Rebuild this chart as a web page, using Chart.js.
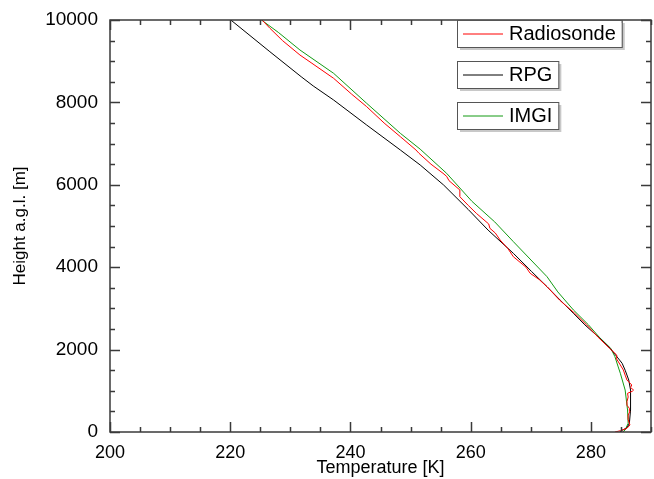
<!DOCTYPE html>
<html>
<head>
<meta charset="utf-8">
<script src="https://cdn.jsdelivr.net/npm/chart.js@4/dist/chart.umd.min.js"></script>
<style>
  html, body { margin: 0; padding: 0; background: #fff; }
  #wrap { width: 654px; height: 479px; }
</style>
</head>
<body>
<div id="wrap"><canvas id="profile" width="654" height="479"></canvas></div>
<script>
// tick labels
const xMajor = [200, 220, 240, 260, 280];
const yMajor = [0, 2000, 4000, 6000, 8000, 10000];

// Radiosonde (red)
const sondeHeight = [0, 30, 90, 170, 300, 413, 500, 575, 650, 735, 850, 939, 990, 1019, 1080, 1141, 1262, 1380, 1505, 1650, 1789, 1869, 2032, 2300, 2600, 2881, 3200, 3527, 3700, 3852, 4000, 4255, 4450, 4660, 4830, 4944, 5050, 5300, 5500, 5711, 5874, 6100, 6205, 6279, 6500, 6765, 6845, 7168, 7500, 7896, 8200, 8585, 8949, 9150, 9500, 9800, 10000];
const sondeTemp = [284.0, 284.9, 286.0, 286.5, 286.2, 286.2, 286.5, 286.4, 286.0, 286.0, 286.2, 286.1, 286.9, 287.1, 286.6, 286.8, 286.0, 285.7, 285.4, 284.8, 284.2, 284.3, 283.1, 281.2, 279.3, 277.3, 274.8, 272.7, 271.4, 269.9, 269.2, 267.1, 266.2, 264.9, 264.1, 263.2, 263.0, 261.0, 259.6, 258.2, 258.2, 256.4, 256.0, 255.4, 253.4, 251.4, 250.9, 248.3, 245.6, 242.7, 240.2, 237.2, 233.6, 231.6, 228.7, 226.6, 225.3];

// RPG (black)
const rpgHeight = [0, 50, 100, 211, 534, 1019, 1262, 1500, 1667, 1869, 2032, 2300, 2600, 2881, 3200, 3527, 3900, 4337, 4900, 5400, 5995, 6481, 6845, 7451, 8058, 8400, 8624, 9230, 10000];
const rpgTemp = [284.8, 285.3, 286.0, 286.4, 286.6, 286.6, 286.3, 285.7, 285.2, 284.1, 283.2, 281.3, 279.0, 277.1, 274.9, 272.7, 270.1, 267.1, 262.9, 259.6, 255.5, 251.6, 248.3, 242.7, 237.2, 233.8, 231.8, 226.6, 220.1];

// IMGI (green)
const imgiHeight = [0, 50, 211, 534, 1019, 1425, 1600, 1828, 2032, 2300, 2600, 2961, 3400, 3770, 4620, 5100, 5600, 6279, 6865, 7250, 7978, 8706, 9272, 9700, 10000];
const imgiTemp = [285.3, 285.7, 286.2, 286.1, 285.7, 284.9, 284.5, 284.0, 283.3, 281.4, 279.6, 277.1, 274.5, 272.7, 267.1, 264.0, 260.2, 256.0, 251.6, 248.3, 242.7, 237.2, 231.6, 228.0, 225.2];

const toPoints = (temps, heights) => temps.map((t, i) => ({ x: t, y: heights[i] }));

const FONT = '"Liberation Sans", Arial, sans-serif';

// frame with inward ticks on all four sides
const framePlugin = {
  id: 'frame',
  afterDatasetsDraw(chart) {
    const { ctx, chartArea: { left, right, top, bottom }, scales: { x, y } } = chart;
    ctx.save();
    ctx.strokeStyle = '#3a3a3a';
    ctx.lineWidth = 1.5;
    ctx.strokeRect(left, top, right - left, bottom - top);
    ctx.beginPath();
    x.ticks.forEach(t => {
      const px = Math.round(x.getPixelForValue(t.value)) + 0.5;
      const len = t.value % 20 === 0 ? 10 : 5;
      ctx.moveTo(px, bottom); ctx.lineTo(px, bottom - len);
      ctx.moveTo(px, top); ctx.lineTo(px, top + len);
    });
    y.ticks.forEach(t => {
      const py = Math.round(y.getPixelForValue(t.value)) + 0.5;
      const len = t.value % 2000 === 0 ? 10 : 5;
      ctx.moveTo(left, py); ctx.lineTo(left + len, py);
      ctx.moveTo(right, py); ctx.lineTo(right - len, py);
    });
    ctx.stroke();
    ctx.restore();
  }
};

// separate boxed legend entries with a drop shadow
const boxLegend = {
  id: 'boxLegend',
  afterDraw(chart) {
    const { ctx } = chart;
    ctx.save();
    ctx.font = '20px ' + FONT;
    ctx.textBaseline = 'middle';
    chart.data.datasets.forEach((ds, i) => {
      const bx = 457, by = 20 + i * 41, bh = 27;
      const bw = 52 + ctx.measureText(ds.label).width + 6;
      ctx.fillStyle = '#c8c8c8';
      ctx.fillRect(bx + 3, by + 3, bw, bh);
      ctx.fillStyle = '#fff';
      ctx.fillRect(bx, by, bw, bh);
      ctx.strokeStyle = '#555';
      ctx.lineWidth = 1;
      ctx.strokeRect(bx + 0.5, by + 0.5, bw, bh);
      ctx.strokeStyle = ds.borderColor;
      ctx.beginPath();
      ctx.moveTo(bx + 6, by + bh / 2 + 0.5);
      ctx.lineTo(bx + 46, by + bh / 2 + 0.5);
      ctx.stroke();
      ctx.fillStyle = '#000';
      ctx.fillText(ds.label, bx + 52, by + bh / 2 + 1);
    });
    ctx.restore();
  }
};

new Chart(document.getElementById('profile'), {
  type: 'scatter',
  data: {
    datasets: [
      { label: 'Radiosonde', data: toPoints(sondeTemp, sondeHeight), borderColor: '#ff0000' },
      { label: 'RPG', data: toPoints(rpgTemp, rpgHeight), borderColor: '#000000' },
      { label: 'IMGI', data: toPoints(imgiTemp, imgiHeight), borderColor: '#129a12' }
    ].map(d => Object.assign(d, { showLine: true, pointRadius: 0, borderWidth: 1, tension: 0 }))
  },
  options: {
    responsive: false,
    animation: false,
    layout: { padding: { top: 20, right: 3, left: 0, bottom: 0 } },
    plugins: { legend: { display: false }, tooltip: { enabled: false } },
    scales: {
      x: {
        type: 'linear',
        min: 200,
        max: 290,
        grid: { display: false },
        border: { display: false },
        afterFit: s => { s.height = 47; },
        ticks: {
          stepSize: 5,
          autoSkip: false,
          maxRotation: 0,
          padding: 2,
          color: '#000',
          font: { family: FONT, size: 18 },
          callback: v => xMajor.includes(v) ? String(v) : ''
        },
        title: {
          display: true,
          text: 'Temperature [K]',
          color: '#000',
          font: { family: FONT, size: 18 },
          padding: { top: 0, bottom: 0 }
        }
      },
      y: {
        min: 0,
        max: 10000,
        grid: { display: false },
        border: { display: false },
        afterFit: s => { s.width = 110; },
        ticks: {
          stepSize: 500,
          autoSkip: false,
          padding: 4,
          color: '#000',
          font: { family: FONT, size: 19 },
          callback: v => yMajor.includes(v) ? String(v) : ''
        },
        title: {
          display: true,
          text: 'Height a.g.l. [m]',
          color: '#000',
          font: { family: FONT, size: 17 },
          padding: { top: 10, bottom: 0 }
        }
      }
    }
  },
  plugins: [framePlugin, boxLegend]
});
</script>
</body>
</html>
